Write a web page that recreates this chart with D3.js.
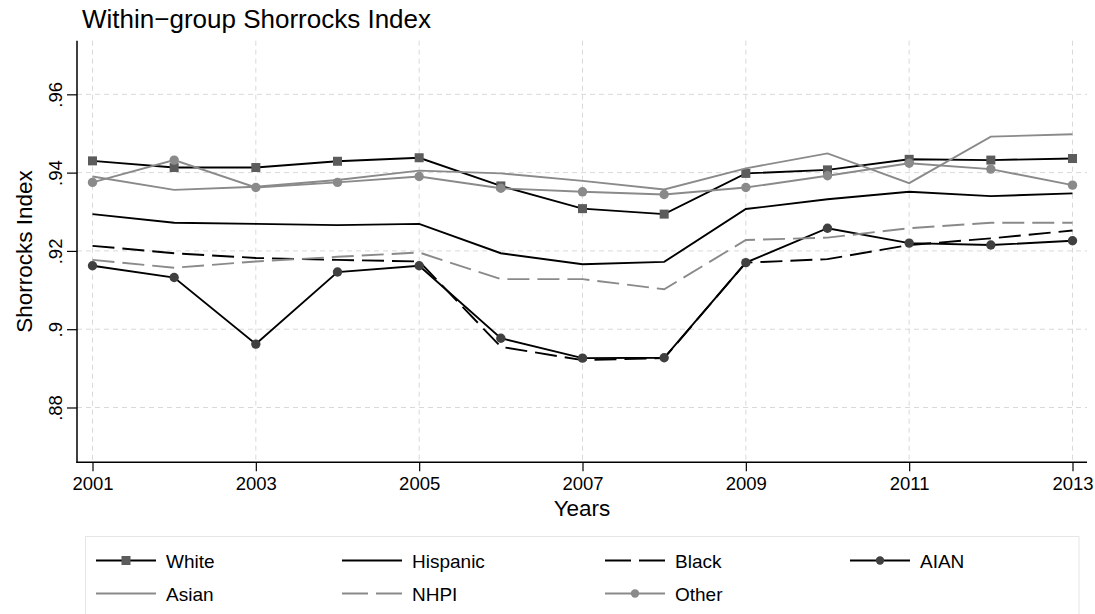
<!DOCTYPE html>
<html lang="en">
    <head>
        <meta charset="utf-8">
        <title>shorrocks</title>
        <script type="text/javascript" src="https://cdn.jsdelivr.net/npm/d3@7"></script>
        <style>
            body { margin: 0; background: #fff; }
            text { font-family: "Liberation Sans", Arial, Helvetica, sans-serif; fill: #000; }
        </style>
    </head>

    <body>
        <script type="text/javascript">
        var w = 1095;
        var h = 614;

        // data
        var years = [2001, 2002, 2003, 2004, 2005, 2006, 2007, 2008, 2009, 2010, 2011, 2012, 2013];
        var white    = [0.9430, 0.9413, 0.9413, 0.9429, 0.9438, 0.9366, 0.9308, 0.9294, 0.9398, 0.9407, 0.9434, 0.9432, 0.9436];
        var hispanic = [0.9294, 0.9272, 0.9269, 0.9266, 0.9269, 0.9194, 0.9166, 0.9172, 0.9307, 0.9332, 0.9351, 0.9340, 0.9347];
        var black    = [0.9213, 0.9194, 0.9182, 0.9177, 0.9173, 0.8955, 0.8921, 0.8926, 0.9170, 0.9179, 0.9215, 0.9232, 0.9252];
        var aian     = [0.9162, 0.9132, 0.8962, 0.9146, 0.9162, 0.8977, 0.8926, 0.8927, 0.9170, 0.9258, 0.9220, 0.9215, 0.9226];
        var asian    = [0.9390, 0.9356, 0.9364, 0.9381, 0.9405, 0.9398, 0.9379, 0.9357, 0.9411, 0.9449, 0.9373, 0.9492, 0.9498];
        var nhpi     = [0.9177, 0.9157, 0.9173, 0.9185, 0.9196, 0.9128, 0.9128, 0.9102, 0.9228, 0.9234, 0.9258, 0.9272, 0.9272];
        var other    = [0.9375, 0.9432, 0.9362, 0.9375, 0.9390, 0.9360, 0.9351, 0.9344, 0.9362, 0.9392, 0.9424, 0.9409, 0.9368];

        var xTicks = [2001, 2003, 2005, 2007, 2009, 2011, 2013];
        var yTicks = [0.88, 0.90, 0.92, 0.94, 0.96];
        var yTickLabels = [".88", ".9", ".92", ".94", ".96"];

        var seriesNames = ["White", "Hispanic", "Black", "AIAN", "Asian", "NHPI", "Other"];
        var seriesValues = [white, hispanic, black, aian, asian, nhpi, other];

        // look of each series
        var styles = {
            "White":    {stroke: "#000", dash: null, marker: "square", fill: "#5c5c5c"},
            "Hispanic": {stroke: "#000", dash: null, marker: null},
            "Black":    {stroke: "#000", dash: "22,8", marker: null},
            "AIAN":     {stroke: "#000", dash: null, marker: "circle", fill: "#404040"},
            "Asian":    {stroke: "#8a8a8a", dash: null, marker: null},
            "NHPI":     {stroke: "#8a8a8a", dash: "22,8", marker: null},
            "Other":    {stroke: "#8a8a8a", dash: null, marker: "circle", fill: "#8a8a8a"}
        };

        var plotLeft = 77, plotRight = 1087, plotTop = 40.7, plotBottom = 462.3;

        var xScale = d3.scaleLinear()
                        .domain([2001, 2013])
                        .range([92.5, 1072.5]);

        var yScale = d3.scaleLinear()
                        .domain([0.866, 0.9737])
                        .range([plotBottom, plotTop]);

        var svg = d3.select("body")
                    .append("svg")
                    .attr("width", w)
                    .attr("height", h);

        // grid
        svg.selectAll("line.hgrid")
            .data(yTicks)
            .enter()
            .append("line")
            .attr("x1", plotLeft)
            .attr("x2", plotRight)
            .attr("y1", function(d){ return yScale(d); })
            .attr("y2", function(d){ return yScale(d); })
            .attr("stroke", "#d9d9d9")
            .attr("stroke-width", 1)
            .attr("stroke-dasharray", "5,4");

        svg.selectAll("line.vgrid")
            .data(xTicks)
            .enter()
            .append("line")
            .attr("x1", function(d){ return xScale(d); })
            .attr("x2", function(d){ return xScale(d); })
            .attr("y1", plotTop)
            .attr("y2", plotBottom)
            .attr("stroke", "#d9d9d9")
            .attr("stroke-width", 1)
            .attr("stroke-dasharray", "5,4");

        // axes
        var xAxis = d3.axisBottom(xScale)
                        .tickValues(xTicks)
                        .tickFormat(d3.format("d"))
                        .tickSize(9)
                        .tickPadding(6);

        var gx = svg.append("g")
                    .attr("transform", "translate(0," + plotBottom + ")")
                    .call(xAxis);
        gx.select(".domain").remove();
        gx.selectAll("line").attr("stroke", "#000").attr("stroke-width", 1.2);
        gx.selectAll("text").attr("font-size", "18.5px").attr("font-family", null);

        var yAxis = d3.axisLeft(yScale)
                        .tickValues(yTicks)
                        .tickFormat(function(d, i){ return yTickLabels[i]; })
                        .tickSize(10)
                        .tickPadding(6);

        var gy = svg.append("g")
                    .attr("transform", "translate(" + plotLeft + ",0)")
                    .call(yAxis);
        gy.select(".domain").remove();
        gy.selectAll("line").attr("stroke", "#000").attr("stroke-width", 1.2);
        gy.selectAll("text")
            .attr("font-size", "18.5px")
            .attr("font-family", null)
            .attr("text-anchor", "middle")
            .attr("x", null)
            .attr("dy", null)
            .attr("transform", "translate(-15.5,0) rotate(-90)");

        svg.append("line")
            .attr("x1", plotLeft).attr("x2", plotLeft)
            .attr("y1", plotTop).attr("y2", plotBottom + 0.6)
            .attr("stroke", "#000").attr("stroke-width", 1.5);
        svg.append("line")
            .attr("x1", plotLeft - 0.6).attr("x2", plotRight)
            .attr("y1", plotBottom).attr("y2", plotBottom)
            .attr("stroke", "#000").attr("stroke-width", 1.5);

        // titles
        svg.append("text")
            .attr("x", 82)
            .attr("y", 27.5)
            .attr("font-size", "26px")
            .text("Within\u2212group Shorrocks Index");

        svg.append("text")
            .attr("x", (plotLeft + plotRight) / 2)
            .attr("y", 516)
            .attr("text-anchor", "middle")
            .attr("font-size", "22.5px")
            .text("Years");

        svg.append("text")
            .attr("transform", "translate(31.5," + (plotTop + plotBottom) / 2 + ") rotate(-90)")
            .attr("text-anchor", "middle")
            .attr("font-size", "22.5px")
            .text("Shorrocks Index");

        // lines
        var line = d3.line()
                    .x(function(d){ return xScale(d[0]); })
                    .y(function(d){ return yScale(d[1]); });

        seriesNames.forEach(function(name, k){
            var st = styles[name];
            var pts = years.map(function(y, i){ return [y, seriesValues[k][i]]; });
            var g = svg.append("g");

            g.append("path")
                .datum(pts)
                .attr("d", line)
                .attr("fill", "none")
                .attr("stroke", st.stroke)
                .attr("stroke-width", 1.9)
                .attr("stroke-dasharray", st.dash);

            if (st.marker == "square") {
                g.selectAll("rect")
                    .data(pts)
                    .enter()
                    .append("rect")
                    .attr("x", function(d){ return xScale(d[0]) - 4.5; })
                    .attr("y", function(d){ return yScale(d[1]) - 4.5; })
                    .attr("width", 9)
                    .attr("height", 9)
                    .attr("fill", st.fill);
            } else if (st.marker == "circle") {
                g.selectAll("circle")
                    .data(pts)
                    .enter()
                    .append("circle")
                    .attr("cx", function(d){ return xScale(d[0]); })
                    .attr("cy", function(d){ return yScale(d[1]); })
                    .attr("r", 4.7)
                    .attr("fill", st.fill);
            }
        });

        // legend
        var legX = [96, 342, 605, 850];
        var legY = [560.5, 593.5];

        svg.append("rect")
            .attr("x", 85.5)
            .attr("y", 536.5)
            .attr("width", 993.5)
            .attr("height", 90)
            .attr("fill", "#fff")
            .attr("stroke", "#e6e6e6")
            .attr("stroke-width", 1);

        seriesNames.forEach(function(name, k){
            var st = styles[name];
            var x0 = legX[k % 4];
            var y0 = legY[Math.floor(k / 4)];
            var g = svg.append("g");

            g.append("line")
                .attr("x1", x0).attr("x2", x0 + 60)
                .attr("y1", y0).attr("y2", y0)
                .attr("stroke", st.stroke)
                .attr("stroke-width", 1.9)
                .attr("stroke-dasharray", st.dash ? "26,8" : null);

            if (st.marker == "square") {
                g.append("rect")
                    .attr("x", x0 + 30 - 4.5).attr("y", y0 - 4.5)
                    .attr("width", 9).attr("height", 9)
                    .attr("fill", st.fill);
            } else if (st.marker == "circle") {
                g.append("circle")
                    .attr("cx", x0 + 30).attr("cy", y0)
                    .attr("r", 4.2)
                    .attr("fill", st.fill);
            }

            g.append("text")
                .attr("x", x0 + 70)
                .attr("y", y0 + 7)
                .attr("font-size", "19px")
                .text(name);
        });

        </script>
    
    </body>

</html>
